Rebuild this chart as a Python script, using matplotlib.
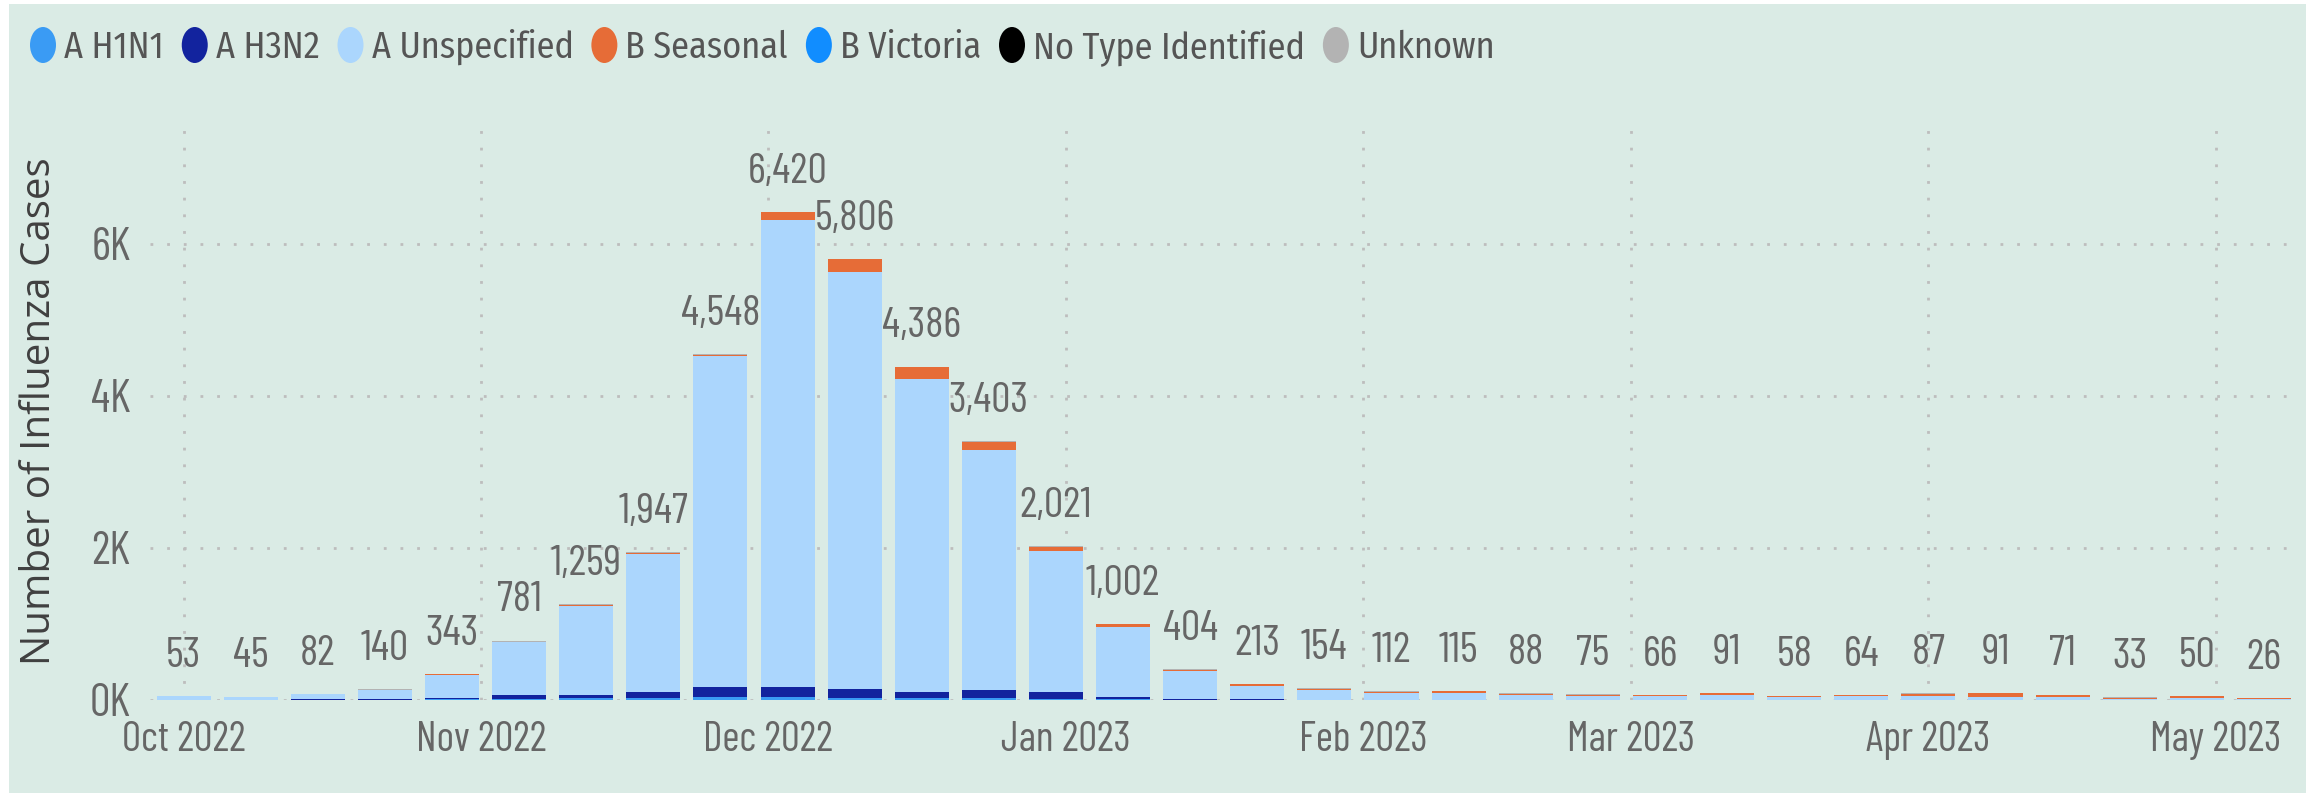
import os
import numpy as np
import pandas as pd
import matplotlib
matplotlib.use("Agg")
from matplotlib import pyplot as plt, patches, dates as mdates, transforms as mtransforms
from matplotlib import font_manager as fm

# weekly influenza cases, Oct 2022 - May 2023
week_start = pd.date_range("2022-10-01", periods=32, freq="7D")

a_h1n1 = [4, 3, 4, 6, 10, 18, 22, 30, 40, 45, 30, 20, 20, 15, 8, 5,
          3, 2, 2, 2, 1, 1, 1, 1, 1, 1, 1, 1, 1, 0, 1, 0]
a_h3n2 = [2, 3, 4, 10, 20, 45, 50, 75, 130, 125, 115, 90, 110, 85, 28, 12,
          5, 4, 3, 3, 2, 2, 2, 2, 2, 2, 2, 2, 2, 1, 1, 1]
a_unspecified = [44, 36, 69, 112, 303, 701, 1166, 1822, 4358, 6141, 5482, 4113, 3155, 1858, 928, 362,
                 180, 122, 85, 89, 67, 54, 48, 64, 40, 44, 52, 38, 34, 16, 23, 11]
b_seasonal = [1, 1, 2, 6, 4, 5, 6, 10, 14, 105, 175, 160, 115, 60, 35, 22,
              20, 20, 18, 18, 15, 14, 12, 20, 12, 14, 28, 45, 30, 14, 22, 12]
b_victoria = [0] * 32
no_type = [0] * 32
unknown = [2, 2, 3, 6, 6, 12, 15, 10, 6, 4, 4, 3, 3, 3, 3, 3,
           5, 6, 4, 3, 3, 4, 3, 4, 3, 3, 4, 5, 4, 2, 3, 2]

series = [
    ("A H1N1", a_h1n1, "#3A9BF4"),
    ("A H3N2", a_h3n2, "#12239E"),
    ("A Unspecified", a_unspecified, "#ABD6FD"),
    ("B Seasonal", b_seasonal, "#E66C37"),
    ("B Victoria", b_victoria, "#118DFF"),
    ("No Type Identified", no_type, "#000000"),
    ("Unknown", unknown, "#B3B3B3"),
]


def pick_font(paths):
    for path in paths:
        if os.path.exists(path):
            fm.fontManager.addfont(path)
            return fm.FontProperties(fname=path).get_name()
    return "DejaVu Sans"


GF = "/usr/share/fonts/truetype/google-fonts/"
DJ = "/usr/share/fonts/truetype/dejavu/DejaVuSansCondensed.ttf"
# the reference uses a squeezed Segoe-like face -> condensed sans faces
NARROW = pick_font([GF + "BarlowCondensed-Regular.ttf", GF + "FiraSansCondensed-Regular.ttf", DJ])
LEGEND_FONT = pick_font([GF + "FiraSansCondensed-Regular.ttf", DJ])
TXT = "#666666"
BG = "#DAEBE5"

W, H = 2315, 793
fig = plt.figure(figsize=(W / 100, H / 100), dpi=100)
fig.patch.set_facecolor("white")
px = mtransforms.IdentityTransform()
fig.add_artist(patches.Rectangle((9, 0), 2297, 789, transform=px,
                                 facecolor=BG, edgecolor="none", zorder=-10))

ax = fig.add_axes([150 / W, 93 / H, 2147.5 / W, 570 / H])
ax.set_facecolor("none")
for s in ax.spines.values():
    s.set_visible(False)

x = mdates.date2num(week_start)
bottom = np.zeros(len(x))
for name, vals, col in series:
    vals = np.array(vals, dtype=float)
    ax.bar(x, vals, width=5.64, bottom=bottom, color=col, linewidth=0, zorder=2)
    bottom += vals

for xi, tot in zip(x, bottom):
    ax.annotate(f"{int(tot):,}", (xi, tot), xytext=(0, 21), textcoords="offset points",
                ha="center", va="baseline", fontsize=31, color=TXT, family=[NARROW, "DejaVu Sans"])

ax.set_xlim(x[0] - 3.5, x[-1] + 3.5)
ax.set_ylim(0, 7500)
ax.set_yticks([0, 2000, 4000, 6000])
ax.set_yticklabels(["0K", "2K", "4K", "6K"])
ax.xaxis.set_major_locator(mdates.MonthLocator())
ax.xaxis.set_major_formatter(mdates.DateFormatter("%b %Y"))
ax.tick_params(axis="both", length=0, colors=TXT, labelfontfamily=NARROW)
ax.tick_params(axis="x", pad=15, labelsize=30)
ax.tick_params(axis="y", pad=14, labelsize=33)
ax.grid(True, color="#BDBDBD", linestyle=(0, (1, 5)), linewidth=2, zorder=0)
ax.set_axisbelow(True)

fig.text(40 / W, 382 / H, "Number of Influenza Cases", rotation=90, ha="center", va="center",
         fontsize=29, color="#404040", family="Open Sans")

# legend along the top
renderer = fig.canvas.get_renderer()
lx, ly = 43, H - 45
for name, vals, col in series:
    fig.add_artist(patches.Ellipse((lx, ly), 26, 36, transform=px, facecolor=col, edgecolor="none"))
    t = fig.text(lx + 21, ly - 13, name, transform=px, ha="left", va="baseline",
                 fontsize=26, color="#555555", family=[LEGEND_FONT, "DejaVu Sans"])
    bb = t.get_window_extent(renderer)
    lx = bb.x1 + 31

fig.savefig("out.png", dpi=100)
